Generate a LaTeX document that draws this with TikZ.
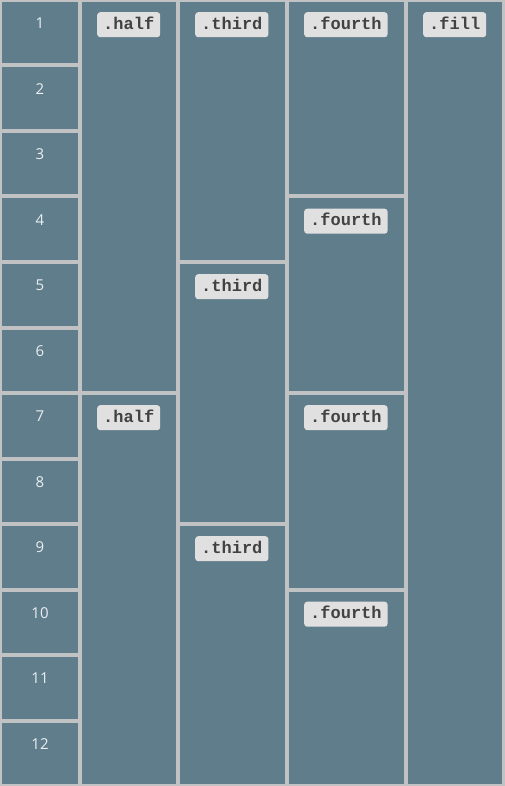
\documentclass[tikz,border=0pt]{standalone}
\usepackage{fontspec}
\setmainfont{Open Sans}
\newfontfamily\codefont{Liberation Mono}
\usetikzlibrary{positioning}
\definecolor{bggray}{HTML}{C0C2C4}
\definecolor{cellblue}{HTML}{607D8B}
\definecolor{tagfill}{HTML}{E0E0E0}
\definecolor{tagtext}{HTML}{424242}
\definecolor{numtext}{HTML}{ECEFF1}
\tikzset{
  cell/.style={fill=cellblue,inner sep=0pt,outer sep=0pt,anchor=north west,
    minimum width=#1},
  tag/.style={fill=tagfill,text=tagtext,rounded corners=3pt,inner xsep=6pt,
    inner ysep=0pt,minimum height=25pt,text height=11pt,text depth=2pt,
    font=\codefont\bfseries\fontsize{17}{20}\selectfont},
  numlbl/.style={text=numtext,inner sep=0pt,font=\fontsize{15}{18}\selectfont},
}

\begin{document}
\begin{tikzpicture}[x=1pt,y=-1pt,node distance=10pt and 15pt]
  \fill[bggray] (0,0) rectangle (505,786);
  \useasboundingbox (0,0) rectangle (505,786);
  % numbered rows
  \foreach \i in {1,...,12} {
    \node[cell=76pt,minimum height=61.5pt] (r\i) at (2,{2+(\i-1)*65.5}) {};
    \node[numlbl,yshift=-21.5pt] (n\i) at (r\i.north) {\i};
  }
  % halves
  \foreach \i in {1,2} {
    \node[cell=94pt,minimum height=389pt] (h\i) at (82,{2+(\i-1)*393}) {};
    \node[tag,below right=of h\i.north west] (th\i) {.half};
  }
  % thirds
  \foreach \i in {1,2,3} {
    \node[cell=105pt,minimum height=258pt] (t\i) at (180,{2+(\i-1)*262}) {};
    \node[tag,below right=of t\i.north west] (tt\i) {.third};
  }
  % fourths
  \foreach \i in {1,...,4} {
    \node[cell=115pt,minimum height=192.5pt] (f\i) at (289,{2+(\i-1)*196.5}) {};
    \node[tag,below right=of f\i.north west] (tf\i) {.fourth};
  }
  % fill
  \node[cell=94pt,minimum height=782pt] (fl) at (408,2) {};
  \node[tag,below right=of fl.north west] (tfl) {.fill};
\end{tikzpicture}
\end{document}
